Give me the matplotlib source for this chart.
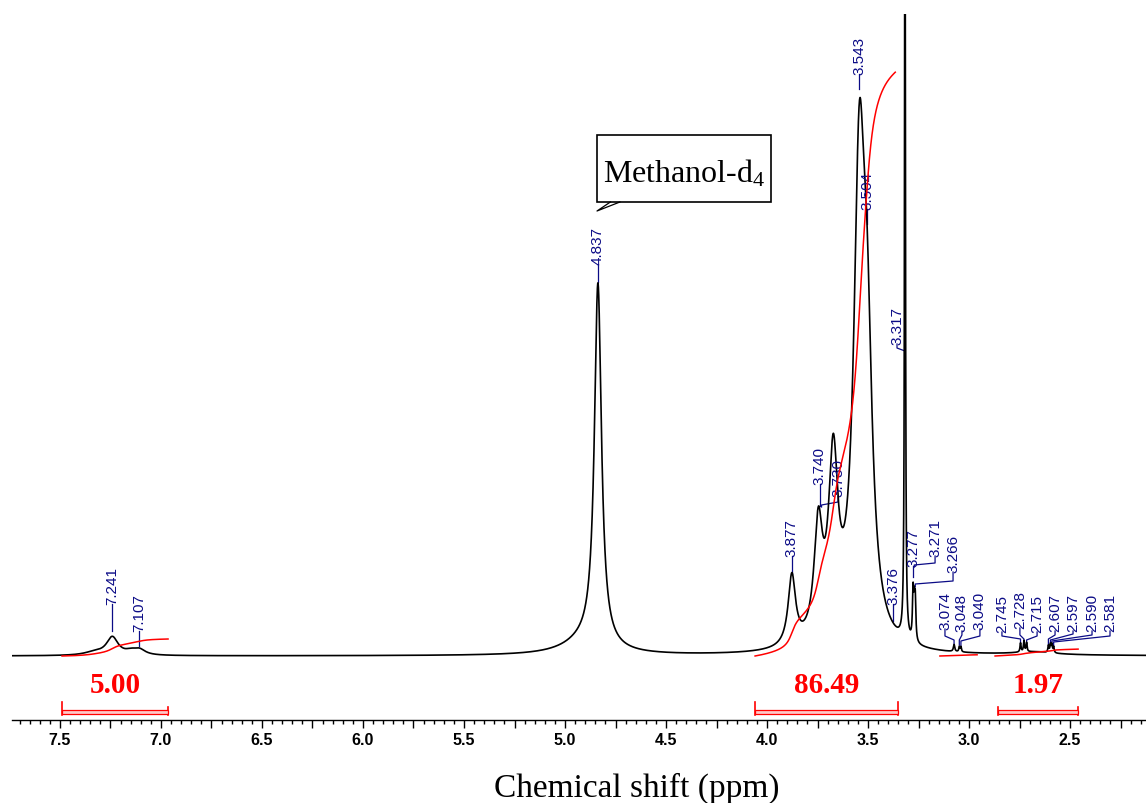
import numpy as np
import matplotlib
matplotlib.use("Agg")
import matplotlib.pyplot as plt
from matplotlib.ticker import MultipleLocator, FuncFormatter
from matplotlib.patches import Rectangle

# ---------------------------------------------------------------- data
# Lorentzian peak table: chemical shift (ppm), height (a.u.), half width (ppm)
peak_shift = [7.33, 7.241, 7.15, 7.107,
              4.90, 4.837,
              3.877, 3.746, 3.672, 3.543, 3.504,
              3.317, 3.277, 3.271, 3.266,
              3.074, 3.048, 3.040,
              2.68, 2.745, 2.728, 2.715,
              2.607, 2.597, 2.590, 2.581]
peak_height = [3, 18, 3, 5.5,
               13, 362,
               70, 110, 175, 458, 230,
               900, 48, 30, 40,
               7, 5, 5,
               3, 9, 11, 9,
               7, 8, 8, 6]
peak_hwhm = [0.06, 0.035, 0.03, 0.035,
             0.13, 0.021,
             0.022, 0.025, 0.028, 0.033, 0.03,
             0.0025, 0.0035, 0.003, 0.0035,
             0.004, 0.003, 0.003,
             0.12, 0.003, 0.003, 0.003,
             0.003, 0.003, 0.003, 0.003]

# labelled peak positions (ppm)
label_values = [7.241, 7.107, 4.837, 3.877, 3.740, 3.730, 3.543, 3.504,
                3.376, 3.317, 3.277, 3.271, 3.266, 3.074, 3.048, 3.040,
                2.745, 2.728, 2.715, 2.607, 2.597, 2.590, 2.581]

# integral regions (ppm from, ppm to) and integral values
integral_ranges = [(7.490, 6.965), (4.059, 3.351), (2.856, 2.460)]
integral_values = [5.00, 86.49, 1.97]
# ranges over which the running integral curves are drawn
integral_curve_ranges = [(7.490, 6.965), (4.059, 3.365), (3.144, 2.960), (2.871, 2.460)]
integral_curve_gain = [3.4, 6.75, 1.2, 3.5]
integral_curve_total = [5.00, 86.49, 1.0, 1.97]

# ------------------------------------------------------------ label layout
# (text ppm, text base, knee top, knee bottom, tip) in (ppm, intensity);
# knee values of None give a straight leader
label_layout = [
    (7.241, 52, None, None, 25),
    (7.107, 25, None, None, 10),
    (4.837, 392, None, None, 374),
    (3.877, 100, None, None, 82),
    (3.740, 172, None, None, 150),
    (3.6485, 160, 154, 151, 149),
    (3.543, 582, None, None, 567),
    (3.504, 447, None, None, 432),
    (3.376, 52, None, None, 35),
    (3.3564, 312, 308, 305, 302),
    (3.277, 90, None, None, 79),
    (3.168, 100, 93, 91, 89),
    (3.079, 84, 75, 72, 69),
    (3.119, 27, 20, 16, 11),
    (3.035, 25, 21, 16, 11),
    (2.946, 27, 20, 15, 10),
    (2.837, 24, 20, 17, 12),
    (2.748, 28, 21, 17, 12),
    (2.663, 24, 20, 16, 11),
    (2.574, 25, 21, 17, 12),
    (2.485, 25, 22, 16, 12),
    (2.391, 25, 21, 15, 11),
    (2.302, 25, 20, 14, 10),
]

# ------------------------------------------------------------- spectrum
ppm = np.linspace(7.74, 2.12, 30000)
spec = np.zeros_like(ppm)
for c, h, w in zip(peak_shift, peak_height, peak_hwhm):
    spec += h / (1.0 + ((ppm - c) / w) ** 2)

plt.rcParams['mathtext.fontset'] = 'custom'
plt.rcParams['mathtext.rm'] = 'Liberation Serif'
plt.rcParams['mathtext.it'] = 'Liberation Serif:italic'

fig = plt.figure(figsize=(11.46, 8.04), dpi=100)
ax = fig.add_axes([12 / 1146, 83 / 804, 1134 / 1146, 706 / 804])
ax.set_xlim(7.7376, 2.1238)
ax.set_ylim(-64, 642)

ax.plot(ppm, spec, color='black', lw=1.2, zorder=3)

# running integral curves
for (p0, p1), gain, total in zip(integral_curve_ranges, integral_curve_gain,
                                 integral_curve_total):
    m = (ppm <= p0) & (ppm >= p1)
    seg = spec[m]
    cum = np.concatenate([[0.0], np.cumsum(0.5 * (seg[1:] + seg[:-1]))])
    cum = cum / cum[-1] * total * gain
    ax.plot(ppm[m], cum, color='red', lw=1.1, zorder=4)

# integral brackets and values
bracket_tall = [(True, False), (True, True), (False, False)]
for (p0, p1), val, (tl, tr) in zip(integral_ranges, integral_values, bracket_tall):
    ax.add_patch(Rectangle((p1, -58), p0 - p1, 4, facecolor='#ffc8c8',
                           edgecolor='red', lw=0.9, zorder=4))
    ax.plot([p0, p0], [-46 if tl else -51, -59], color='red', lw=1.2)
    ax.plot([p1, p1], [-46 if tr else -51, -59], color='red', lw=1.2)
    ax.text((p0 + p1) / 2, -36, f"{val:.2f}", color='red', ha='center',
            va='baseline', fontsize=21, fontweight='bold',
            family='Liberation Serif')

# peak labels with leader lines
navy = '#0b0b86'
for val, (tx, tb, k1, k2, tip) in zip(label_values, label_layout):
    ax.text(tx, tb, f"{val:.3f}", rotation=90, ha='center', va='bottom',
            color=navy, fontsize=11, family='Liberation Sans')
    if k1 is None:
        xs, ys = [tx, tx], [tb, tip]
    else:
        xs, ys = [tx, tx, val, val], [tb, k1, k2, tip]
    ax.plot(xs, ys, color=navy, lw=0.9)

# solvent callout
box_l, box_r = 4.8416, 3.980
ax.add_patch(Rectangle((box_r, 454), box_l - box_r, 67, facecolor='white',
                       edgecolor='black', lw=1.2, zorder=5))
ax.text(4.411, 474, r"Methanol-d$_\mathregular{4}$", ha='center', va='baseline',
        fontsize=23, family='Liberation Serif', zorder=6)
ax.plot([4.7282, 4.8416, 4.7752], [454, 445, 454], color='black', lw=0.9,
        zorder=5)

# axes styling
for s in ['left', 'right', 'top']:
    ax.spines[s].set_visible(False)
ax.spines['bottom'].set_linewidth(1.0)
ax.set_yticks([])
ax.xaxis.set_major_locator(MultipleLocator(0.25))
ax.xaxis.set_minor_locator(MultipleLocator(0.05))


def fmt(v, pos):
    if abs(v * 2 - round(v * 2)) < 1e-6:
        return f"{v:.1f}"
    return ""


ax.xaxis.set_major_formatter(FuncFormatter(fmt))
ax.tick_params(axis='x', which='major', length=6, width=1.0, pad=3,
               labelsize=11.5)
ax.tick_params(axis='x', which='minor', length=3, width=1.0)
for lab in ax.get_xticklabels():
    lab.set_fontweight('bold')
    lab.set_family('Liberation Sans')

fig.text(637 / 1146, 7 / 804, "Chemical shift (ppm)", ha='center',
         va='baseline', fontsize=24, family='Liberation Serif')

fig.savefig('out.png', dpi=100)
